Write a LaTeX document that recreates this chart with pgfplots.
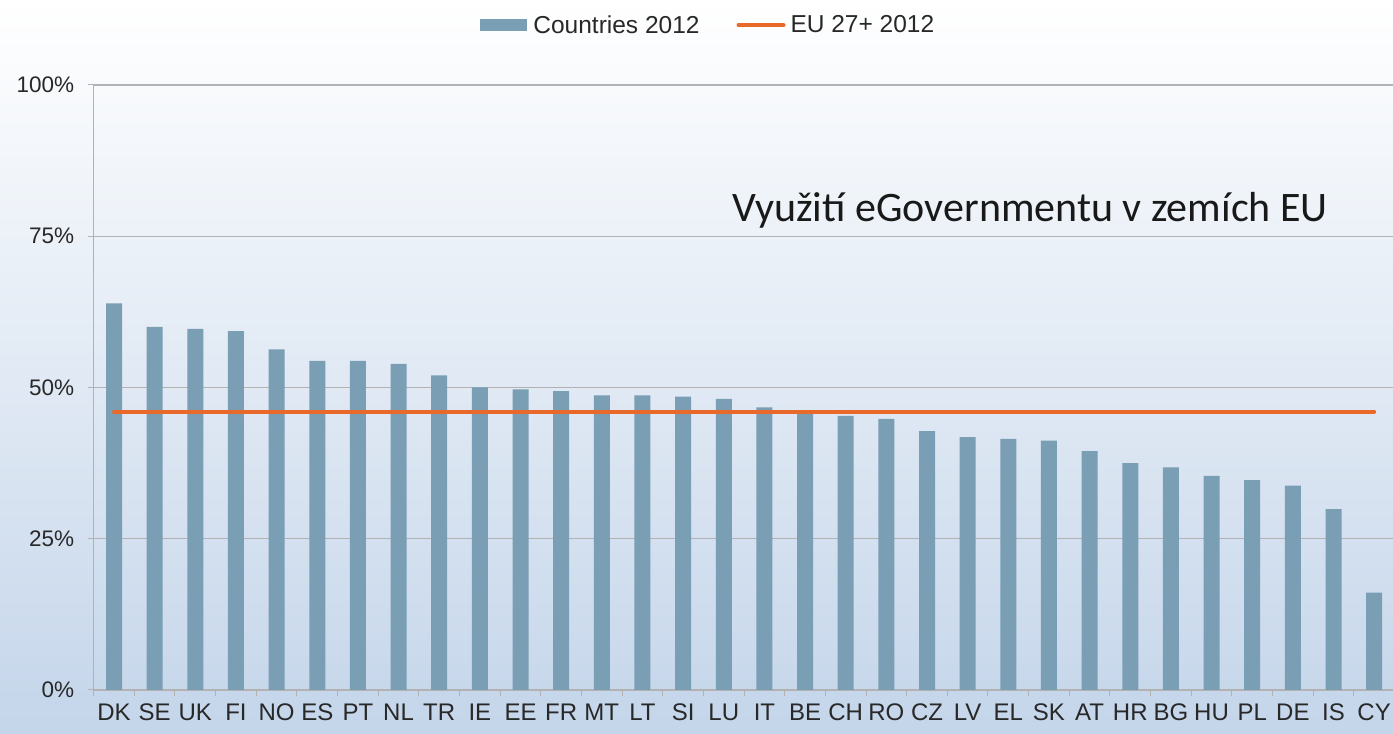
\documentclass[border=0pt]{standalone}
\usepackage{fontspec}
\setmainfont{Liberation Sans}
\newfontfamily\calibri{Carlito}
\usepackage{pgfplots}
\pgfplotsset{compat=1.18}
\definecolor{barcol}{RGB}{122,158,179}
\definecolor{eucol}{RGB}{232,105,42}
\definecolor{gridcol}{RGB}{178,178,178}
\definecolor{txtcol}{RGB}{40,40,40}
\definecolor{bgbot}{RGB}{196,213,234}
\definecolor{bgmid}{RGB}{234,240,247}
\begin{document}
\begin{tikzpicture}[x=1pt,y=1pt]
\useasboundingbox (0,0) rectangle (1393,734);
\shade[top color=white, middle color=bgmid, bottom color=bgbot] (0,0) rectangle (1393,734);
\begin{axis}[
  at={(93.7pt,44pt)}, anchor=south west, scale only axis,
  width=1300.8pt, height=605pt,
  xmin=-0.5, xmax=31.5, ymin=0, ymax=100,
  axis x line=bottom, axis y line=left,
  axis line style={-, gridcol, line width=1pt},
  xtick={0,...,31},
  xticklabels={DK,SE,UK,FI,NO,ES,PT,NL,TR,IE,EE,FR,MT,LT,SI,LU,IT,BE,CH,RO,CZ,LV,EL,SK,AT,HR,BG,HU,PL,DE,IS,CY},
  minor xtick={-0.5,0.5,...,31.5},
  ytick={0,25,50,75,100},
  yticklabels={0\%,25\%,50\%,75\%,100\%},
  tick align=outside, major tick length=6pt, minor tick length=6pt,
  tick style={gridcol, line width=1pt},
  major x tick style={draw=none},
  ymajorgrids, grid style={gridcol, line width=1.2pt},
  xticklabel style={font=\fontsize{24}{28}\selectfont, text=txtcol, yshift=-4pt},
  yticklabel style={font=\fontsize{22.5}{26}\selectfont, text=txtcol, xshift=-10pt},
  legend columns=2,
  legend style={at={(0.4725,1.099)}, anchor=center, draw=none, fill=none,
    font=\fontsize{24.5}{28}\selectfont, text=txtcol,
    /tikz/every even column/.append style={column sep=35pt}},
  clip=false,
]
\addplot[ybar, bar width=16pt, fill=barcol, draw=none,
  legend image code/.code={\fill[barcol] (-3pt,-6pt) rectangle (44pt,6pt); \path (48pt,0pt);}]
  coordinates {
  (0,63.9) (1,60.0) (2,59.7) (3,59.3) (4,56.3) (5,54.4) (6,54.4) (7,53.9)
  (8,52.0) (9,50.0) (10,49.7) (11,49.4) (12,48.7) (13,48.7) (14,48.5) (15,48.1)
  (16,46.7) (17,45.6) (18,45.3) (19,44.8) (20,42.8) (21,41.8) (22,41.5) (23,41.2)
  (24,39.5) (25,37.5) (26,36.8) (27,35.4) (28,34.7) (29,33.8) (30,29.9) (31,16.1)
  };
\addlegendentry{Countries 2012}
\addplot[eucol, line width=4pt, line cap=round,
  legend image code/.code={\draw[eucol, line width=4pt] (-3pt,0pt) -- (42pt,0pt); \path (45pt,0pt);}]
  coordinates {(0,46.0) (31,46.0)};
\addlegendentry{EU 27+ 2012}
\end{axis}
\node[font=\calibri\fontsize{42}{48}\selectfont, text=black!90, anchor=base] at (1030,512) {Využití eGovernmentu v zemích EU};
\end{tikzpicture}
\end{document}
